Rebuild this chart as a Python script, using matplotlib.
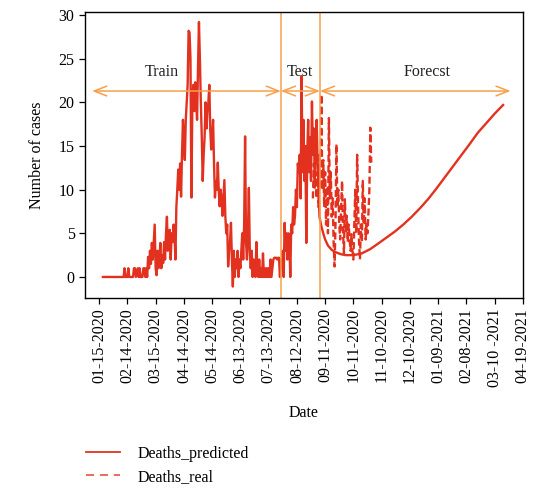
import matplotlib
matplotlib.use("Agg")
import matplotlib.pyplot as plt
from matplotlib.lines import Line2D

plt.rcParams['font.family'] = ['Liberation Serif', 'DejaVu Serif']

# ---- data ----
tick_days = [0, 30, 60, 90, 120, 150, 180, 210, 240, 270, 300, 330, 360, 390, 420, 450]
tick_labels = ["01-15-2020", "02-14-2020", "03-15-2020", "04-14-2020", "05-14-2020",
               "06-13-2020", "07-13-2020", "08-12-2020", "09-11-2020", "10-11-2020",
               "11-10-2020", "12-10-2020", "01-09-2021", "02-08-2021", "03-10 -2021",
               "04-19-2021"]

pred_days = [4, 26, 27, 28, 30, 31, 32, 36, 37, 38, 39, 41, 42, 43, 44, 46, 47, 48, 49, 50, 51,
             52, 53, 54, 55, 56, 57, 58, 59, 60, 61, 62, 63, 64, 65, 66, 67, 68, 69, 70,
             71, 72, 73, 74, 75, 76, 77, 78, 79, 80, 81, 82, 83, 84, 85, 86, 87, 88, 89, 90,
             91, 92, 93, 94, 95, 96, 97, 98, 99, 100, 101, 102, 103, 104, 105, 106, 107, 108, 109, 110,
             111, 112, 113, 114, 115, 116, 117, 118, 119, 120, 121, 122, 123, 124, 125, 126, 127, 128, 129, 130,
             131, 132, 133, 134, 135, 136, 137, 138, 139, 140, 141, 142, 143, 144, 145, 146, 147, 148, 149, 150,
             151, 152, 153, 154, 155, 156, 157, 158, 159, 160, 161, 162, 163, 164, 165, 166, 167, 168, 169, 170,
             171, 172, 173, 174, 175, 176, 177, 178, 179, 180, 181, 182, 183, 184, 185, 186, 187, 188, 189, 190,
             191, 192, 193, 194, 195, 196, 197, 198, 199, 200, 201, 202, 203, 204, 205, 206, 207, 208, 209, 210,
             211, 212, 213, 214, 215, 216, 217, 218, 219, 220, 221, 222, 223, 224, 225, 226, 227, 228, 229, 230,
             231, 232, 233, 234]
pred_vals = [0, 0, 1, 0, 0, 1, 0, 0, 1, 1, 0, 1, 0, 1, 0, 0, 1, 1, 0, 1, 0,
             2.3, 1, 3, 1.5, 3.9, 2, 4, 6, 1, 0.2, 3, 1, 2, 3.9, 1, 2.5, 1.6, 4, 2,
             5, 6.9, 3, 4, 5.4, 2, 5, 4, 6, 5, 2, 8, 10, 12.3, 10, 13, 9.2, 14, 18, 16,
             13.4, 18, 20, 22, 28.2, 28, 25, 9.1, 20, 22, 19, 22.3, 20, 18, 24, 29.2, 25, 20, 16, 11,
             14, 16, 20, 17, 19, 20, 22, 17, 14.6, 16, 18, 13, 9.1, 11, 10, 13.1, 10, 8.1, 10, 9,
             7, 9, 11.1, 7, 5, 6, 1.2, 3, 4, 6.2, 2, -1.1, 3, 0, 2, 1, 3, 0, 2, 1,
             3, 5, 2, 6, 16.1, 4, 2, 5, 10.2, 3, 1, 3, 0, 2, 1, 0, 4, 1, 0, 2,
             0, 1, 0, 2.7, 0, 1, 0, 1, 0, 1, 0, 2, 0, 1, 2, 2.2, 2.2, 2.2, 2, 2.2,
             2.2, 0, 2, 1, 3, 0, 6.2, 3, 5, 2, 5, 4, 0, 6, 5, 8, 6, 7, 10, 8,
             13, 12, 14, 9, 23, 12, 18, 11, 15, 3.9, 14, 18, 12, 16, 11, 20.1, 14, 17, 11, 15,
             18, 13, 10, 6.9]

forecast_days = [234, 236, 238, 240, 243, 247, 252, 257, 262, 270, 279, 288, 296, 305, 314,
                 323, 332, 341, 350, 358, 367, 376, 385, 394, 402, 411, 420, 429]
forecast_vals = [6.9, 5.8, 5.0, 4.3, 3.6, 3.1, 2.8, 2.6, 2.5, 2.5, 2.7, 3.2, 3.8, 4.5, 5.2,
                 6.0, 6.9, 7.9, 9.0, 10.1, 11.4, 12.7, 14.0, 15.3, 16.5, 17.6, 18.7, 19.7]

real_days = list(range(227, 290))
real_vals = [9, 13, 10, 12, 9, 12, 8, 14, 10, 20.9, 10, 13.4, 8, 12, 6, 10.4, 5, 18.2, 9, 12,
             6.9, 9, 4, 1.2, 6, 15.2, 8, 10, 6, 4.3, 8, 11, 5, 2.7, 8.9, 5, 7, 4, 6, 4.3,
             3, 4.9, 3, 2, 6, 10, 5, 14, 8, 4, 2, 6, 4, 11, 6, 9, 4.3, 6, 5, 7.3,
             10, 17.1, 13.1]

split_days = [193, 234.5]
arrow_y = 21.3
segments = [(-7.5, 193, "Train"), (193, 234.5, "Test"), (234.5, 437, "Forecst")]
label_x = [67, 213, 348]

# ---- figure ----
fig = plt.figure(figsize=(5.33, 4.9), dpi=100)
ax = fig.add_axes([0.1595, 0.392, 0.8215, 0.5835])

red = '#e2311f'
orange = '#f5a04a'

ax.plot(pred_days + forecast_days[1:], pred_vals + forecast_vals[1:], color=red, lw=1.7)
ax.plot(real_days, real_vals, color=red, lw=1.7, ls=(0, (3, 1.5)))

for d in split_days:
    ax.axvline(d, color=orange, lw=1.1)

for (a, b, name), lx in zip(segments, label_x):
    ax.annotate("", xy=(a, arrow_y), xytext=(b, arrow_y),
                arrowprops=dict(arrowstyle="<->,head_length=0.9,head_width=0.35",
                                color=orange, lw=1.1, shrinkA=0, shrinkB=0))
    ax.text(lx, 23.5, name, ha='center', va='center', fontsize=11.5, color='#222222')

ax.set_xlim(-15, 450)
ax.set_ylim(-2.4, 30.35)
ax.set_yticks([0, 5, 10, 15, 20, 25, 30])
ax.set_xticks(tick_days)
ax.set_xticklabels(tick_labels, rotation=90, fontsize=11.5)
ax.tick_params(axis='y', labelsize=11.5)
ax.tick_params(direction='out', length=4, width=0.9)
for s in ax.spines.values():
    s.set_linewidth(1.0)
ax.set_xlabel("Date", fontsize=11.5, labelpad=13)
ax.set_ylabel("Number of cases", fontsize=11.5, labelpad=10)

h1 = Line2D([], [], color=red, lw=1.3)
h2 = Line2D([], [], color='#e8604f', lw=1.3, ls=(0, (4.5, 3.2)))
fig.legend(handles=[h1, h2], labels=["Deaths_predicted", "Deaths_real"],
           loc='upper left', bbox_to_anchor=(0.135, 0.12),
           frameon=False, fontsize=11.5, handlelength=2.1, handletextpad=1.1,
           labelspacing=0.45)

fig.savefig("out.png", dpi=100)
